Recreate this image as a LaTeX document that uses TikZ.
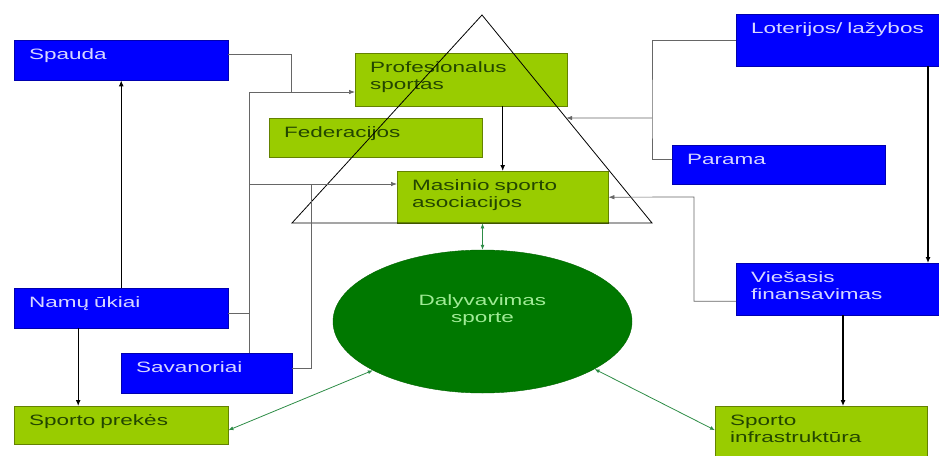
\documentclass[tikz,border=0pt]{standalone}
\usepackage{fontspec}
\setmainfont{Liberation Sans}[FakeStretch=1.5]
\usetikzlibrary{shapes.geometric, arrows.meta, positioning, calc}
\definecolor{fundblue}{RGB}{0,0,255}
\definecolor{fundedge}{RGB}{0,0,175}
\definecolor{fundtext}{RGB}{215,215,255}
\definecolor{sportgreen}{RGB}{153,204,0}
\definecolor{sportedge}{RGB}{100,130,0}
\definecolor{sporttext}{RGB}{35,70,0}
\definecolor{partgreen}{RGB}{0,120,0}
\definecolor{parttext}{RGB}{160,235,150}
\definecolor{linkgreen}{RGB}{45,140,70}

\begin{document}
\begin{tikzpicture}[x=1pt, y=-1pt,
        every node/.style={font=\fontsize{15}{17}\selectfont},
        source/.style={rectangle, anchor=north west, align=left, inner xsep=15pt, inner ysep=8pt, text height=11pt, fill=fundblue, draw=fundedge, text=fundtext},
        sector/.style={rectangle, anchor=north west, align=left, inner xsep=15pt, inner ysep=8pt, text height=11pt, fill=sportgreen, draw=sportedge, text=sporttext},
        participation/.style={ellipse, minimum width=299pt, minimum height=143pt, fill=partgreen, draw=partgreen!85!black},
        line/.style={draw=black!60, line width=0.7pt},
        arrow/.style={-{Latex[length=6pt,width=4.5pt]}, draw=black!60, line width=0.7pt},
        flow/.style={-{Latex[length=6pt,width=5pt]}, draw=black, line width=1.1pt},
        mutual/.style={{Latex[length=5pt,width=4pt]}-{Latex[length=5pt,width=4pt]}, draw=linkgreen, line width=0.8pt}
    ]
        \useasboundingbox (0,0) rectangle (939,455);
        \clip (0,0) rectangle (939,455);

        \node[source, text width=184pt, text depth=13pt] (spauda) at (14,40) {Spauda};
        \node[sector, text width=182pt, text depth=26pt] (prof) at (355,53) {Profesionalus\\sportas};
        \node[sector, text width=183pt, text depth=12pt] (fed) at (269,118) {Federacijos};
        \node[sector, text width=181pt, text depth=25pt] (masin) at (397,171) {Masinio sporto\\asociacijos};
        \node[source, text width=176pt, text depth=25pt] (loter) at (736,14) {Loterijos/ lažybos};
        \node[source, text width=183pt, text depth=12pt] (parama) at (672,145) {Parama};
        \node[source, text width=176pt, text depth=25pt] (viesas) at (736,263) {Viešasis\\finansavimas};
        \node[source, text width=184pt, text depth=13pt] (namu) at (14,288) {Namų ūkiai};
        \node[source, text width=141pt, text depth=13pt] (savan) at (121,353) {Savanoriai};
        \node[sector, text width=184pt, text depth=11pt] (prekes) at (14,406) {Sporto prekės};
        \node[sector, text width=182pt, text depth=29pt] (infra) at (715,406) {Sporto\\infrastruktūra};
        \node[participation, label={[text=parttext, align=center, yshift=11pt]center:Dalyvavimas\\sporte}] (part) at (482.5,321.5) {};

        % Pyramid
        \coordinate (apex) at (482,15);
        \coordinate (baseleft) at (292,223);
        \coordinate (baseright) at (652,223);
        \draw[line, draw=black, line width=0.8pt] (apex) -- (baseright) -- (baseleft) -- cycle;

        % Connectors
        \coordinate (topjoin) at (249,92);
        \coordinate (midjoin) at (249,184);
        \coordinate (spaudabend) at (291,92);
        \coordinate (savanbend) at (311,184);
        \coordinate (fundbend) at (652,118);
        \coordinate (fundlevel) at (482,118);
        \coordinate (publicbend) at (694,197);
        \coordinate (rightdrop) at (928,0);
        \coordinate (infradrop) at (843,0);

        \draw[line] ([yshift=6pt]spauda.east) -| (spaudabend);
        \draw[line] (savan.north -| topjoin) -- (topjoin);
        \draw[arrow] (topjoin) -- (prof.west |- topjoin);
        \draw[arrow] (midjoin) -- (masin.west |- midjoin);
        \draw[line] ([yshift=-5pt]namu.east) -- ([yshift=-5pt]namu.east -| topjoin);
        \draw[line] ([yshift=5pt]savan.east) -| (savanbend);
        \draw[flow] (namu.north) -- (spauda.south);
        \draw[flow] ([xshift=-43pt]namu.south) -- ([xshift=-43pt]prekes.north);
        \draw[flow] (prof.south -| masin.north) -- (masin.north);
        \draw[line] (loter.west) -| (fundbend) |- ([yshift=5pt]parama.west);
        \draw[arrow] (fundbend) -- (intersection of apex--baseright and fundbend--fundlevel);
        \draw[arrow] ([yshift=-12pt]viesas.west) -| (publicbend) -- (masin.east);
        \draw[flow] (loter.south -| rightdrop) -- (viesas.north -| rightdrop);
        \draw[flow] (viesas.south -| infradrop) -- (infra.north -| infradrop);

        \draw[mutual] (masin.south -| part.north) -- (part.north);
        \draw[mutual] (part.204) -- ([yshift=-5pt]prekes.east);
        \draw[mutual] (part.-23) -- ([yshift=4pt]infra.west);

    \end{tikzpicture}
\end{document}
